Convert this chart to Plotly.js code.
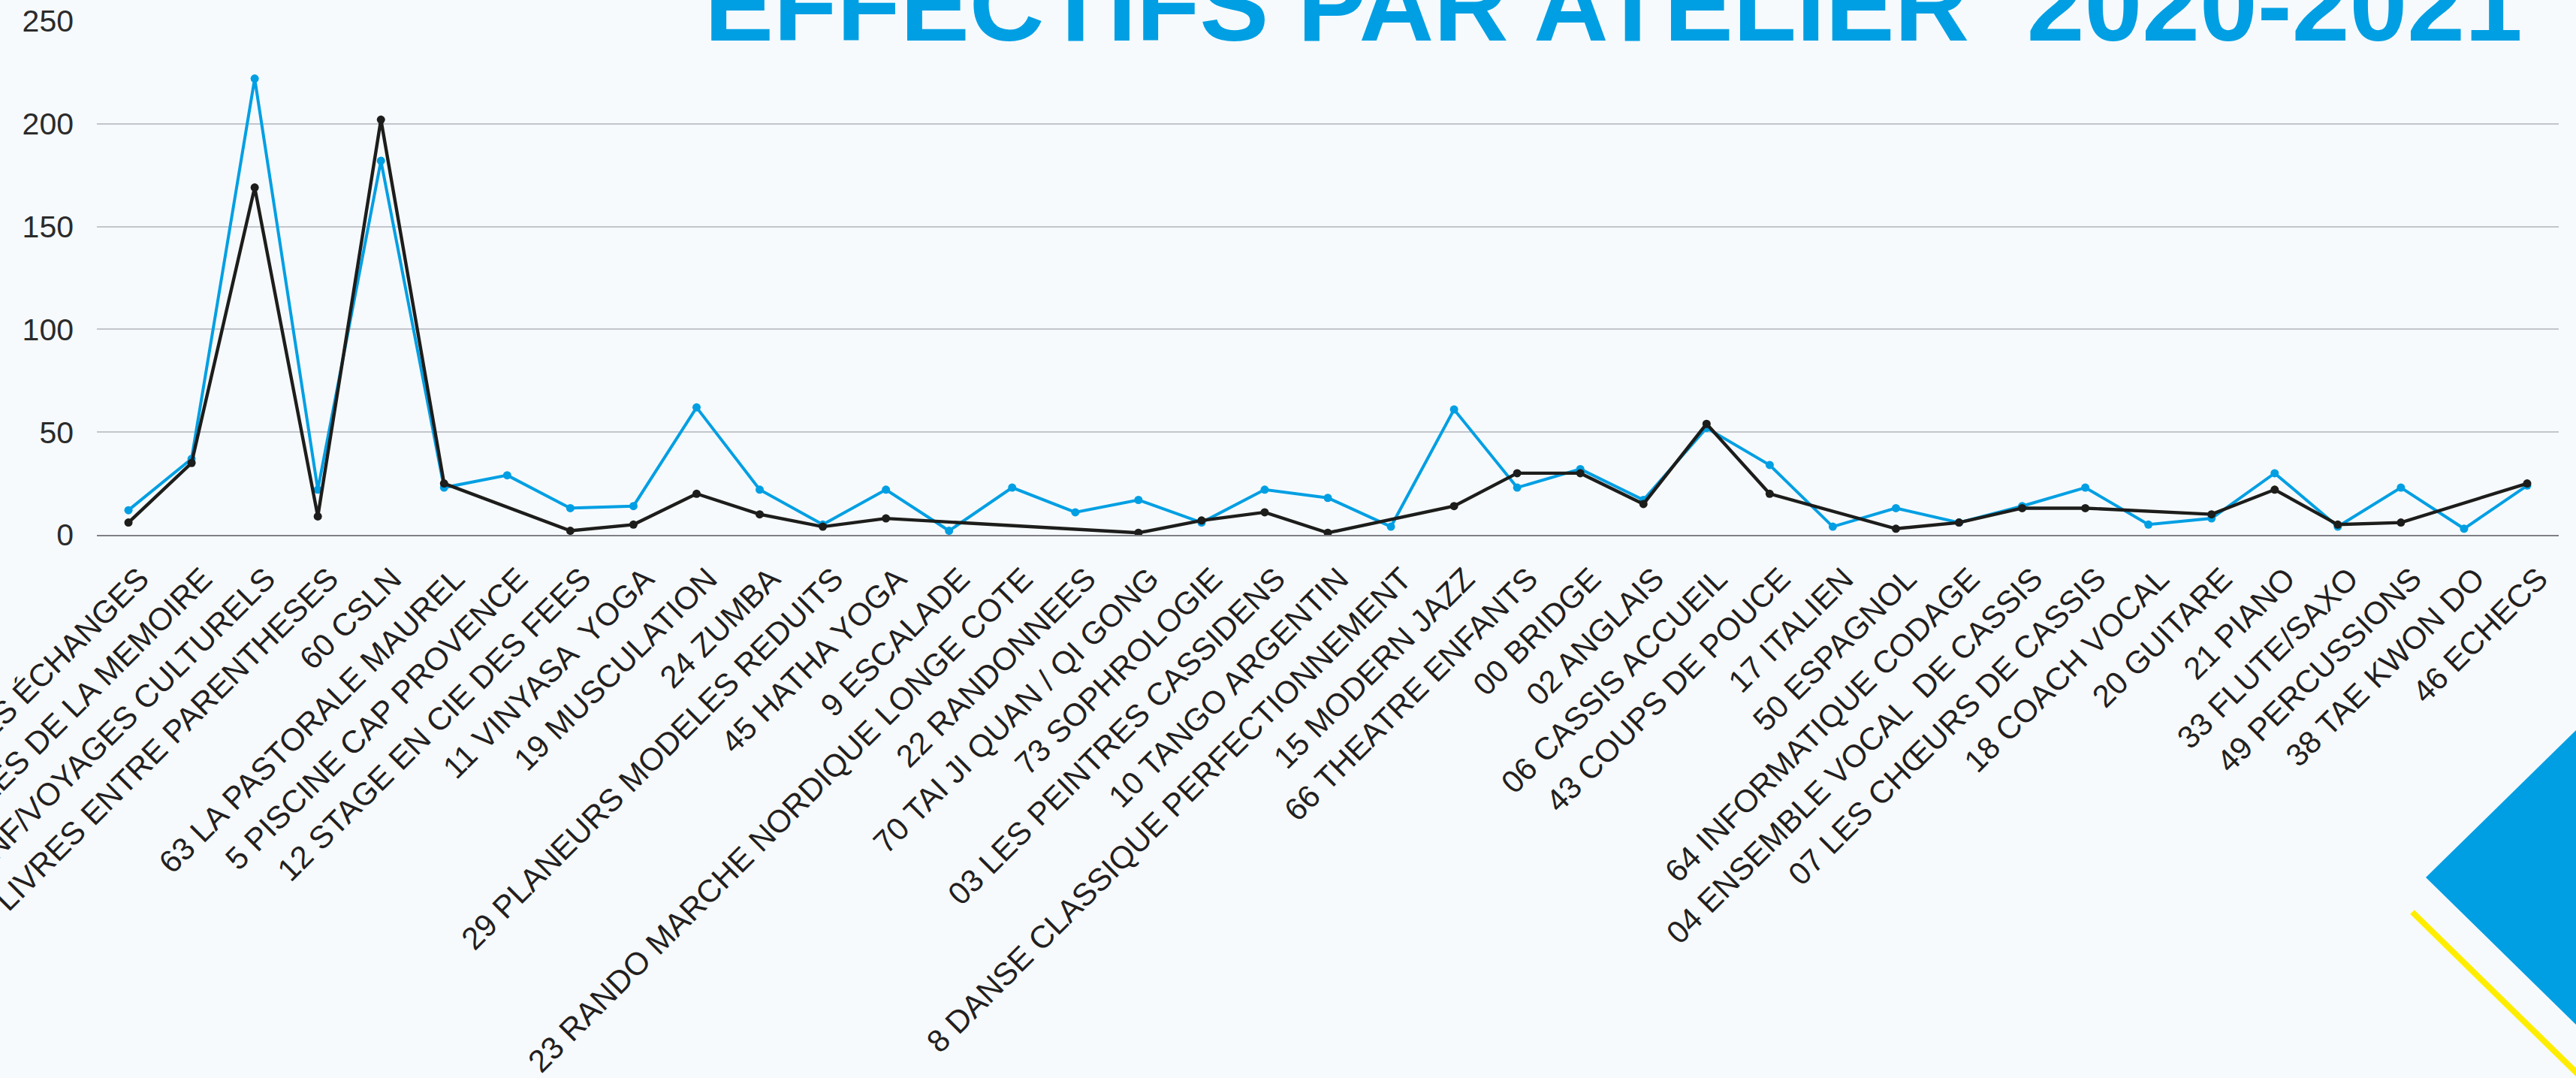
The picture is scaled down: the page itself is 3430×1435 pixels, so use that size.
<!DOCTYPE html>
<html>
<head>
<meta charset="utf-8">
<script src="https://cdn.plot.ly/plotly-3.0.1.min.js"></script>
<style>
  html, body { margin: 0; padding: 0; background: #F6FAFD; }
  #chart { width: 3430px; height: 1435px; }
</style>
</head>
<body>
<div id="chart"></div>
<script>
// ---- data ----
const ateliers = [
  "67 CAFÉ DES ÉCHANGES",
  "59 LES CLES DE LA MEMOIRE",
  "62 CONF/VOYAGES CULTURELS",
  "13 LIVRES ENTRE PARENTHESES",
  "60 CSLN",
  "63 LA PASTORALE MAUREL",
  "5 PISCINE CAP PROVENCE",
  "12 STAGE EN CIE DES FEES",
  "11 VINYASA  YOGA",
  "19 MUSCULATION",
  "24 ZUMBA",
  "29 PLANEURS MODELES REDUITS",
  "45 HATHA YOGA",
  "9 ESCALADE",
  "23 RANDO MARCHE NORDIQUE LONGE COTE",
  "22 RANDONNEES",
  "70 TAI JI QUAN / QI GONG",
  "73 SOPHROLOGIE",
  "03 LES PEINTRES CASSIDENS",
  "10 TANGO ARGENTIN",
  "8 DANSE CLASSIQUE PERFECTIONNEMENT",
  "15 MODERN JAZZ",
  "66 THEATRE ENFANTS",
  "00 BRIDGE",
  "02 ANGLAIS",
  "06 CASSIS ACCUEIL",
  "43 COUPS DE POUCE",
  "17 ITALIEN",
  "50 ESPAGNOL",
  "64 INFORMATIQUE CODAGE",
  "04 ENSEMBLE VOCAL  DE CASSIS",
  "07 LES CHŒURS DE CASSIS",
  "18 COACH VOCAL",
  "20 GUITARE",
  "21 PIANO",
  "33 FLUTE/SAXO",
  "49 PERCUSSIONS",
  "38 TAE KWON DO",
  "46 ECHECS"
];

// black series (gaps = no value for that workshop)
const effectifsNoir = [
  6, 35, 169, 9, 202, 25, null, 2, 5, 20,
  10, 4, 8, null, null, null, 1, 7, 11, 1,
  null, 14, 30, 30, 15, 54, 20, null, 3, 6,
  13, 13, null, 10, 22, 5, 6, null, 25
];

// blue series
const effectifsBleu = [
  12, 37, 222, 22, 182, 23, 29, 13, 14, 62,
  22, 5, 22, 2, 23, 11, 17, 6, 22, 18,
  4, 61, 23, 32, 17, 52, 34, 4, 13, 6,
  14, 23, 5, 8, 30, 4, 23, 3, 24
];

const yTicks = [0, 50, 100, 150, 200, 250];
const titre = "EFFECTIFS PAR ATELIER\u00a0 2020-2021";

// ---- layout geometry ----
const W = 3430, H = 1435;
const M = { l: 129, r: 23, t: 28, b: 723 };
const plotW = W - M.l - M.r, plotH = H - M.t - M.b;
const px = X => (X - M.l) / plotW;          // pixel -> paper x
const py = Y => (H - M.b - Y) / plotH;      // pixel -> paper y

const BLUE = "#009FE3", BLACK = "#1D1D1B", YELLOW = "#FFED00";
const FONT = "Liberation Sans, Arial, sans-serif";

const traces = [
  {
    type: "scatter", mode: "lines+markers", name: "Effectifs (bleu)",
    x: ateliers, y: effectifsBleu, connectgaps: true,
    line: { color: BLUE, width: 4 },
    marker: { color: BLUE, size: 11 },
    hoverinfo: "x+y"
  },
  {
    type: "scatter", mode: "lines+markers", name: "Effectifs (noir)",
    x: ateliers, y: effectifsNoir, connectgaps: true,
    line: { color: BLACK, width: 4.4 },
    marker: { color: BLACK, size: 11 },
    hoverinfo: "x+y"
  }
];

const layout = {
  width: W, height: H,
  margin: M,
  paper_bgcolor: "#F6FAFD",
  plot_bgcolor: "#F6FAFD",
  showlegend: false,
  font: { family: FONT, color: "#231F20" },
  title: {
    text: titre,
    font: { family: FONT, size: 138, color: BLUE, weight: 700 },
    xref: "container", x: 938 / W, xanchor: "left",
    yref: "container", y: 1 - 54 / H, yanchor: "bottom",
    pad: { t: 0, b: 0, l: 0, r: 0 }
  },
  xaxis: {
    type: "category",
    categoryorder: "array", categoryarray: ateliers,
    range: [-0.5, ateliers.length - 0.5],
    tickangle: -45,
    tickfont: { family: FONT, size: 42, color: "#231F20" },
    showgrid: false,
    showline: true, linecolor: "#7F7F85", linewidth: 2,
    ticks: "", zeroline: false,
    automargin: false,
    ticklabelstandoff: 15,
    ticklabelshift: 15
  },
  yaxis: {
    range: [0, 250],
    tickvals: yTicks,
    ticktext: yTicks.map(String),
    tickfont: { family: FONT, size: 41, color: "#2B2B2B" },
    showgrid: true, gridcolor: "#C2C5CA", gridwidth: 2,
    zeroline: false, showline: false, ticks: "",
    automargin: false,
    ticklabelstandoff: 30
  },
  shapes: [
    {
      type: "path", xref: "paper", yref: "paper", layer: "above",
      path: `M ${px(3230)} ${py(1168)} L ${px(3432)} ${py(970)} L ${px(3432)} ${py(1366)} Z`,
      fillcolor: BLUE, line: { width: 0 }
    },
    {
      type: "line", xref: "paper", yref: "paper", layer: "above",
      x0: px(3212), y0: py(1214), x1: px(3450), y1: py(1447),
      line: { color: YELLOW, width: 8 }
    }
  ]
};

Plotly.newPlot("chart", traces, layout, { displayModeBar: false, staticPlot: true });
</script>
</body>
</html>
